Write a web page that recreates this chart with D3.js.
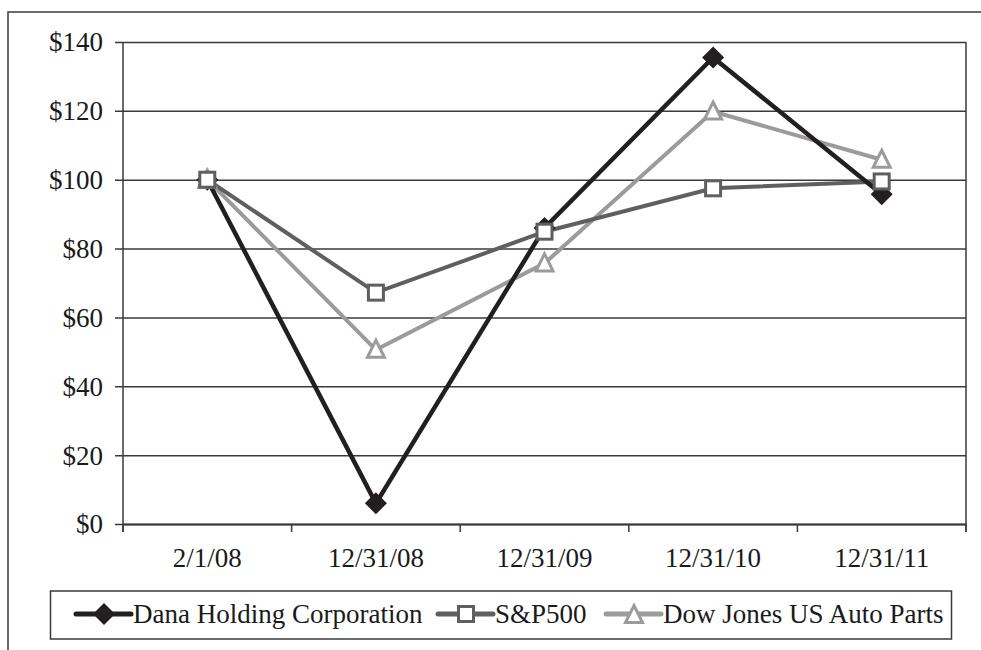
<!DOCTYPE html>
<html><head><meta charset="utf-8">
<script src="https://cdn.jsdelivr.net/npm/d3@7"></script>
<style>html,body{margin:0;padding:0;background:#fff}</style>
</head><body>
<svg id="c" width="981" height="650"></svg>
<script>
const categories = ["2/1/08","12/31/08","12/31/09","12/31/10","12/31/11"];
const dana = [100, 6, 86, 135.5, 95.8];
const sp500 = [100, 67.2, 84.9, 97.5, 99.5];
const djAuto = [100, 50.6, 75.7, 119.8, 105.8];
const yTicks = [0,20,40,60,80,100,120,140];
const seriesNames = ["Dana Holding Corporation","S&P500","Dow Jones US Auto Parts"];

const svg = d3.select("#c");
const font = "Liberation Serif, Times New Roman, serif";
const FS = 27;
const L=123, R=966, T=42, B=524;
const x = d3.scaleBand().domain(categories).range([L,R]);
const y = d3.scaleLinear().domain([0,140]).range([B,T]);

svg.append("rect").attr("x",8).attr("y",12).attr("width",1000).attr("height",700)
  .attr("fill","none").attr("stroke","#3a3a3a").attr("stroke-width",1.5);

const yAxis = d3.axisLeft(y).tickValues(yTicks).tickSize(8).tickFormat(d=>"$"+d);
const gy = svg.append("g").attr("transform",`translate(${L},0)`).call(yAxis);
gy.select(".domain").remove();
gy.selectAll(".tick line").attr("stroke","#3a3a3a").attr("stroke-width",1.5).attr("x2",R-L).attr("x1",-8);
gy.selectAll(".tick text").attr("font-family",font).attr("font-size",FS).attr("fill","#1a1a1a")
  .attr("x",-20).attr("dy","0.33em");
svg.append("line").attr("x1",L).attr("x2",L).attr("y1",T).attr("y2",B+8).attr("stroke","#3a3a3a").attr("stroke-width",1.5);
svg.append("line").attr("x1",R).attr("x2",R).attr("y1",T).attr("y2",B+8).attr("stroke","#3a3a3a").attr("stroke-width",1.5);

const xAxis = d3.axisBottom(x).tickSize(0).tickPadding(0);
const gx = svg.append("g").attr("transform",`translate(0,${B})`).call(xAxis);
gx.select(".domain").attr("stroke","#3a3a3a").attr("stroke-width",2);
gx.selectAll(".tick line").remove();
gx.selectAll(".tick text").attr("font-family",font).attr("font-size",FS).attr("fill","#1a1a1a")
  .attr("y",43).attr("dy",0);
const bounds = categories.map(c=>x(c)).concat([R]);
svg.append("g").selectAll("line").data(bounds).join("line")
  .attr("x1",d=>d).attr("x2",d=>d).attr("y1",B).attr("y2",B+8)
  .attr("stroke","#3a3a3a").attr("stroke-width",1.5);

const cx = c => x(c)+x.bandwidth()/2;
const line = d3.line().x((d,i)=>cx(categories[i])).y(d=>y(d));

const styles = [
  {data:dana, color:"#231f20", sym:"diamond"},
  {data:sp500, color:"#5f5f5f", sym:"square"},
  {data:djAuto, color:"#9b9b9b", sym:"triangle"}
];
function drawSym(g, sym, color, px, py){
  if(sym==="diamond"){
    g.append("path").attr("d",`M${px},${py-11}L${px+11},${py}L${px},${py+11}L${px-11},${py}Z`).attr("fill",color);
  } else if(sym==="square"){
    g.append("rect").attr("x",px-7.5).attr("y",py-7.5).attr("width",15).attr("height",15)
      .attr("fill","#fff").attr("stroke",color).attr("stroke-width",3);
  } else {
    g.append("path").attr("d",`M${px},${py-9.5}L${px+8.5},${py+7.5}L${px-8.5},${py+7.5}Z`)
      .attr("fill","#fff").attr("stroke",color).attr("stroke-width",3).attr("stroke-linejoin","miter");
  }
}
[2,1,0].forEach(k=>{
  const s = styles[k];
  svg.append("path").datum(s.data).attr("d",line).attr("fill","none")
    .attr("stroke",s.color).attr("stroke-width",k===0?4.5:4).attr("stroke-linejoin","miter");
});
[0,2,1].forEach(k=>{
  const s = styles[k];
  const g = svg.append("g");
  s.data.forEach((v,i)=>drawSym(g,s.sym,s.color,cx(categories[i]),y(v)));
});

svg.append("rect").attr("x",50.5).attr("y",591).attr("width",901).attr("height",48)
  .attr("fill","#fff").attr("stroke","#3a3a3a").attr("stroke-width",1.5);
const legX = [76, 438, 606];
const ly = 614;
styles.forEach((s,k)=>{
  const g = svg.append("g");
  g.append("line").attr("x1",legX[k]).attr("x2",legX[k]+55).attr("y1",ly).attr("y2",ly)
    .attr("stroke",s.color).attr("stroke-width",5).attr("stroke-linecap","round");
  drawSym(g,s.sym,s.color,legX[k]+28,ly+(s.sym==="triangle"?1:0));
  g.append("text").attr("x",legX[k]+57).attr("y",ly+9).attr("font-family",font).attr("font-size",FS)
    .attr("fill","#1a1a1a").text(seriesNames[k]);
});
</script>
</body></html>
